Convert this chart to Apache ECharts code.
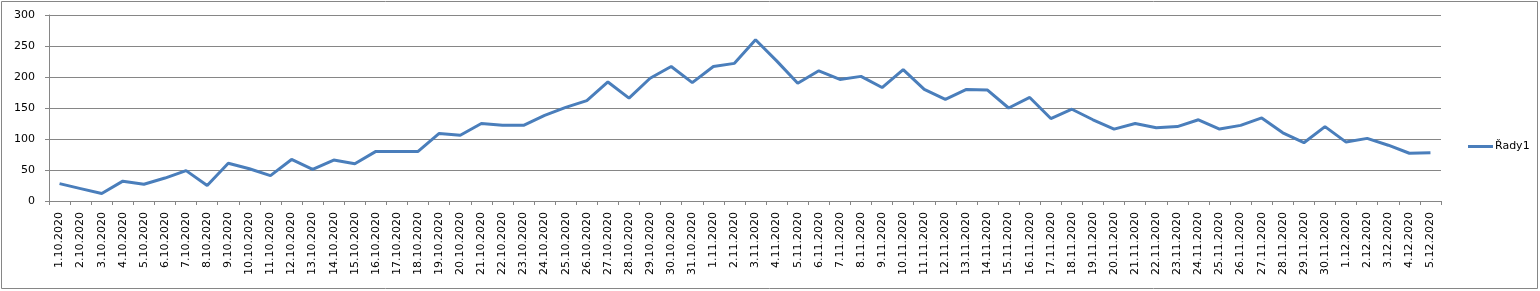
<!DOCTYPE html>
<html>
<head>
<meta charset="utf-8">
<script src="https://cdn.jsdelivr.net/npm/echarts@6/dist/echarts.min.js"></script>
<style>
html,body{margin:0;padding:0;background:#fff;}
#c{width:1540px;height:291px;}
</style>
</head>
<body>
<div id="c"></div>
<script>
const categories = [
"1.10.2020","2.10.2020","3.10.2020","4.10.2020","5.10.2020","6.10.2020","7.10.2020","8.10.2020","9.10.2020","10.10.2020",
"11.10.2020","12.10.2020","13.10.2020","14.10.2020","15.10.2020","16.10.2020","17.10.2020","18.10.2020","19.10.2020","20.10.2020",
"21.10.2020","22.10.2020","23.10.2020","24.10.2020","25.10.2020","26.10.2020","27.10.2020","28.10.2020","29.10.2020","30.10.2020",
"31.10.2020","1.11.2020","2.11.2020","3.11.2020","4.11.2020","5.11.2020","6.11.2020","7.11.2020","8.11.2020","9.11.2020",
"10.11.2020","11.11.2020","12.11.2020","13.11.2020","14.11.2020","15.11.2020","16.11.2020","17.11.2020","18.11.2020","19.11.2020",
"20.11.2020","21.11.2020","22.11.2020","23.11.2020","24.11.2020","25.11.2020","26.11.2020","27.11.2020","28.11.2020","29.11.2020",
"30.11.2020","1.12.2020","2.12.2020","3.12.2020","4.12.2020","5.12.2020"
];
const seriesName = "Řady1";
const values = [
28,20,12,32,27,37,49,25,61,52,
41,67,51,66,60,80,80,80,109,106,
125,122,122,138,151,162,192,166,198,217,
191,217,222,260,226,190,210,196,201,183,
212,180,164,180,179,150,167,133,148,131,
116,125,118,120,131,116,122,134,110,94,
120,95,101,90,77,78
];
const yTicks = {min:0, max:300, interval:50};

const chart = echarts.init(document.getElementById('c'), null, {renderer:'canvas'});
const font = 'DejaVu Sans';
chart.setOption({
  animation:false,
  backgroundColor:'#fff',
  graphic:[{type:'rect', silent:true, z:-1,
    shape:{x:1.5,y:1.5,width:1536,height:287},
    style:{fill:'none',stroke:'#868686',lineWidth:1}}],
  grid:{left:49,right:99,top:15,bottom:90,containLabel:false},
  legend:{
    show:true, left:1463, top:136, orient:'horizontal',
    data:[{name:seriesName, icon:'rect'}],
    itemWidth:25, itemHeight:3, itemGap:5,
    itemStyle:{color:'#4a7ebb',borderWidth:0},
    lineStyle:{width:0},
    textStyle:{fontFamily:font,fontSize:11,color:'#000',padding:[0,0,0,-3]}
  },
  xAxis:{
    type:'category', data:categories, boundaryGap:true,
    axisLine:{lineStyle:{color:'#868686',width:1}},
    axisTick:{show:true,length:4,interval:0,alignWithLabel:false,lineStyle:{color:'#868686'}},
    axisLabel:{interval:0,rotate:90,margin:11,fontFamily:font,fontSize:11,color:'#000'},
    splitLine:{show:false}
  },
  yAxis:{
    type:'value', min:yTicks.min, max:yTicks.max, interval:yTicks.interval,
    axisLine:{show:true,lineStyle:{color:'#868686',width:1}},
    axisTick:{show:true,length:4,lineStyle:{color:'#868686'}},
    axisLabel:{margin:14,fontFamily:font,fontSize:11,color:'#000'},
    splitLine:{show:true,lineStyle:{color:'#868686',width:1}}
  },
  series:[{
    name:seriesName, type:'line', data:values,
    symbol:'none', smooth:false,
    lineStyle:{color:'#4a7ebb',width:3},
    itemStyle:{color:'#4a7ebb'}
  }]
});
</script>
</body>
</html>
